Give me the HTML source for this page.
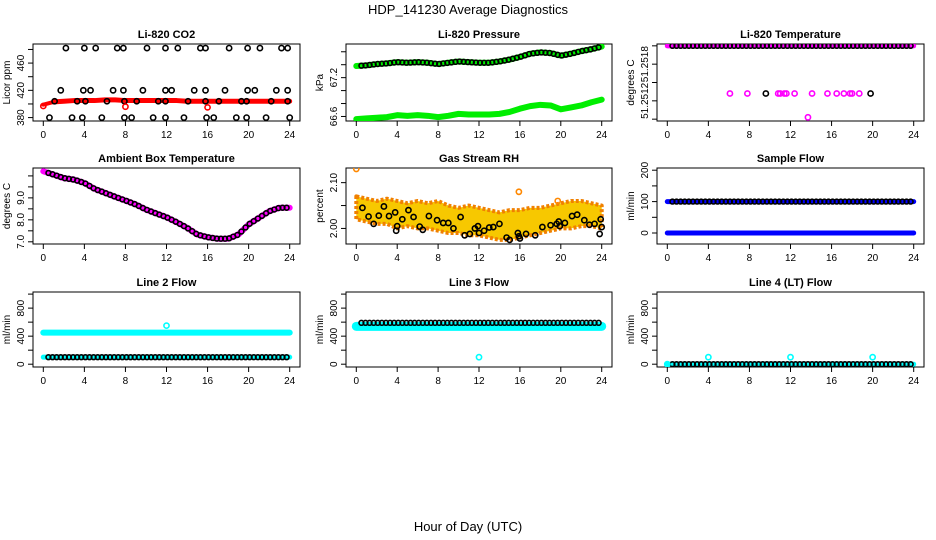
<!DOCTYPE html>
<html><head><meta charset="utf-8"><style>
html,body{margin:0;padding:0;background:#fff;}
svg{display:block;font-family:"Liberation Sans",sans-serif;}
</style></head><body>
<svg id="chart" width="936" height="540" viewBox="0 0 936 540">
<text x="468" y="14" text-anchor="middle" font-size="13">HDP_141230  Average Diagnostics</text>
<text x="468" y="531" text-anchor="middle" font-size="13">Hour of Day (UTC)</text>
</svg>
<script>
// ---- data ----
const hoursHourly = [0,1,2,3,4,5,6,7,8,9,10,11,12,13,14,15,16,17,18,19,20,21,22,23,24];
const xTicks = [0,4,8,12,16,20,24];
const co2Red = [399,403,404,405,405,405,406,406,405,405,405,405,405,405,404,404,404,404,404,404,404,404,404,404,404];
const co2HighHours = [2.2,4.0,5.1,7.2,7.8,10.1,11.9,13.1,15.3,15.8,18.1,19.9,21.1,23.2,23.8];
const co2MidHours = [1.7,3.9,4.6,6.8,7.8,9.7,11.9,12.5,14.7,15.8,17.7,19.9,20.6,22.7,23.8];
const co2BaseHours = [1.1,3.3,4.1,6.2,7.9,9.1,11.2,11.9,14.1,15.8,17.1,19.3,19.8,22.2,23.8];
const co2LowHours = [0.6,2.8,3.8,5.7,7.9,8.6,10.7,11.9,13.7,15.9,16.6,18.8,19.8,21.7,24.0];
const co2Levels = [482,420,404,380];
const co2RedOutHours = [0,8,16];
const co2RedOutVals = [397,396,395];
const presUpper = [67.38,67.39,67.41,67.42,67.44,67.43,67.44,67.43,67.41,67.43,67.45,67.44,67.43,67.43,67.45,67.48,67.52,67.57,67.59,67.58,67.54,67.57,67.61,67.64,67.68];
const presLower = [66.56,66.57,66.58,66.59,66.62,66.61,66.62,66.61,66.59,66.61,66.64,66.63,66.63,66.63,66.64,66.67,66.72,66.76,66.78,66.77,66.71,66.74,66.77,66.82,66.86];
const tempTop = 51.2520;
const tempMidHours = [6.1,7.8,9.6,10.8,11.0,11.4,11.6,12.4,14.1,15.6,16.5,17.2,17.8,18.0,18.7,19.8];
const tempMidVal = 51.25148;
const tempLowHours = [13.7];
const tempLowVal = 51.25122;
const ambient = [10.21,10.06,9.9,9.83,9.68,9.41,9.23,9.05,8.88,8.7,8.47,8.29,8.12,7.89,7.64,7.33,7.21,7.14,7.14,7.33,7.79,8.09,8.39,8.55,8.55];
const rhUpper = [2.07,2.065,2.06,2.065,2.06,2.055,2.06,2.055,2.06,2.05,2.045,2.05,2.045,2.04,2.035,2.04,2.04,2.045,2.045,2.05,2.055,2.06,2.06,2.055,2.05];
const rhLower = [2.02,2.015,2.01,2.01,2.0,2.005,2.0,2.0,1.995,1.99,1.99,1.985,1.985,1.98,1.975,1.975,1.98,1.985,1.99,1.995,2.0,2.0,2.005,2.005,2.0];
const rhBlackHours = [0.6,1.2,1.7,2.2,2.7,3.2,3.8,3.9,4.0,4.5,5.1,5.6,6.2,6.5,7.1,7.9,8.5,9.0,9.5,10.2,10.6,11.1,11.6,11.9,12.0,12.5,13.0,13.4,14.0,14.7,15.0,15.8,15.9,16.0,16.6,17.5,18.2,19.0,19.6,19.8,19.9,20.4,21.1,21.6,22.3,22.8,23.3,23.8,23.9,24.0];
const rhBlackVals = [2.045,2.026,2.01,2.028,2.048,2.027,2.035,1.995,2.005,2.02,2.04,2.025,2.004,1.997,2.027,2.018,2.012,2.012,2.0,2.025,1.985,1.988,2.0,2.005,1.99,1.995,2.002,2.003,2.01,1.98,1.975,1.99,1.983,1.978,1.988,1.985,2.003,2.007,2.01,2.015,2.005,2.012,2.027,2.03,2.018,2.008,2.01,1.988,2.02,2.003];
const sfHigh = 100, sfLow = 0;
const l2Upper = 450, l2Lower = 100, l2OutHour = 12, l2OutVal = 550;
const l3Black = 590, l3Cyan = 540, l3OutHour = 12, l3OutVal = 100;
const l4Level = 0;
const l4OutHours = [4,12,20];
const l4OutVals = [100,100,100];

// ---- layout ----
const NS = 'http://www.w3.org/2000/svg';
const svg = document.getElementById('chart');
const cols = [[33,300],[346,612],[657,924]];
const rows = [[44,121],[168,244],[292,367]];
function mk(tag, attrs, parent){const e=document.createElementNS(NS,tag);for(const k in attrs)e.setAttribute(k,attrs[k]);(parent||svg).appendChild(e);return e;}
function panel(ci,ri,title,ylab,ymin,ymax,yticks,ylabels,name){
  const [L,R]=cols[ci],[T,B]=rows[ri];
  const g=mk('g',{});
  
  
  const xs=h=>L+10.3+h*(R-L-20.6)/24;
  const ys=v=>B-(v-ymin)/(ymax-ymin)*(B-T);
  const t=mk('text',{x:(L+R)/2,y:T-6,'text-anchor':'middle','font-size':11,'font-weight':'bold'},g);t.textContent=title;
  
  
  const box=mk('rect',{x:L,y:T,width:R-L,height:B-T,fill:'none',stroke:'#000','stroke-width':1},g);
  
  
  xTicks.forEach(h=>{mk('line',{x1:xs(h),x2:xs(h),y1:B,y2:B+5,stroke:'#000'},g);
    const tx=mk('text',{x:xs(h),y:B+17,'text-anchor':'middle','font-size':10},g);tx.textContent=h;
    
    });
  yticks.forEach((v,i)=>{const y=ys(v);mk('line',{x1:L,x2:L-5,y1:y,y2:y,stroke:'#000'},g);
    if(ylabels[i]){const ty=mk('text',{x:L-9,y:y,'text-anchor':'middle','font-size':10,transform:`rotate(-90 ${L-9} ${y})`},g);ty.textContent=ylabels[i];
    
    }});
  const yl=mk('text',{x:L-23,y:(T+B)/2,'text-anchor':'middle','font-size':10,transform:`rotate(-90 ${L-23} ${(T+B)/2})`},g);yl.textContent=ylab;
  
  
  const clip='c'+ci+ri;
  const cp=mk('clipPath',{id:clip},g);mk('rect',{x:L,y:T,width:R-L,height:B-T},cp);
  const d=mk('g',{'clip-path':`url(#${clip})`},g);
  return {xs,ys,d};
}
function band(p,hrs,vals,color,w,name){
  const pts=hrs.map((h,i)=>p.xs(h)+','+p.ys(vals[i])).join(' ');
  const e=mk('polyline',{points:pts,fill:'none',stroke:color,'stroke-width':w,'stroke-linejoin':'round','stroke-linecap':'round'},p.d);
  
  
}
function dot(p,h,v,color,name,r){
  const e=mk('circle',{cx:p.xs(h),cy:p.ys(v),r:r||2.6,fill:'none',stroke:color,'stroke-width':1.6},p.d);
  
  
}
const gridHours=[];for(let h=0.5;h<=24;h+=0.4)gridHours.push(+h.toFixed(2));
function hline(p,v,color,w,name){band(p,[0,24],[v,v],color,w,name);}

// CO2
let p=panel(0,0,'Li-820 CO2','Licor ppm',375,488,[380,400,420,440,460,480],['380','','420','','460',''],'panel-co2');
band(p,hoursHourly.slice(1),co2Red.slice(1),'#f00',5,'co2-red-band');
band(p,[0,1],co2Red.slice(0,2),'#f00',4,'co2-red-start');
[co2HighHours,co2MidHours,co2BaseHours,co2LowHours].forEach((hs,k)=>hs.forEach(h=>dot(p,h,co2Levels[k],'#000','co2-point')));
co2RedOutHours.forEach((h,i)=>dot(p,h,co2RedOutVals[i],'#f00','co2-red-outlier'));

// Pressure
p=panel(1,0,'Li-820 Pressure','kPa',66.53,67.72,[66.6,66.8,67.0,67.2,67.4,67.6],['66.6','','','67.2','',''],'panel-pressure');
band(p,hoursHourly,presUpper,'#0e0',6,'pressure-upper-green');
band(p,hoursHourly,presLower,'#0e0',6,'pressure-lower-green');
gridHours.forEach(h=>{const i=Math.min(23,Math.floor(h));const f=h-i;dot(p,h,presUpper[i]*(1-f)+presUpper[i+1]*f,'#000','pressure-point',2.4);});

// Temperature
p=panel(2,0,'Li-820 Temperature','degrees C',51.25118,51.25202,[51.2520,51.2518,51.2516,51.2514,51.2512],['','51.2518','','51.2512',''],'panel-li820-temp');
band(p,[0,24],[tempTop,tempTop],'#f0f',5,'temp-magenta-band');
gridHours.forEach(h=>dot(p,h,tempTop,'#000','temp-point',2.4));
tempMidHours.forEach((h,i)=>dot(p,h,tempMidVal,(i==2||i==15)?'#000':'#f0f','temp-mid-point'));
tempLowHours.forEach(h=>dot(p,h,tempLowVal,'#f0f','temp-low-point'));

// Ambient
p=panel(0,1,'Ambient Box Temperature','degrees C',6.9,10.36,[7,7.5,8,8.5,9,9.5,10],['7.0','','8.0','','9.0','',''],'panel-ambient-temp');
band(p,hoursHourly,ambient,'#f0f',6,'ambient-magenta');
gridHours.forEach(h=>{const i=Math.min(23,Math.floor(h));const f=h-i;dot(p,h,ambient[i]*(1-f)+ambient[i+1]*f,'#000','ambient-point',2.4);});

// RH
p=panel(1,1,'Gas Stream RH','percent',1.966,2.132,[2.0,2.05,2.10],['2.00','','2.10'],'panel-rh');
{const pts=hoursHourly.map((h,i)=>p.xs(h)+','+p.ys(rhUpper[i])).concat(hoursHourly.slice().reverse().map((h,j)=>p.xs(h)+','+p.ys(rhLower[24-j]))).join(' ');
const e=mk('polygon',{points:pts,fill:'#f7c800',stroke:'#f08000','stroke-width':4,'stroke-linejoin':'round','stroke-dasharray':'3 2'},p.d);

}
dot(p,0,2.13,'#f80','rh-outlier');dot(p,15.9,2.08,'#f80','rh-outlier');dot(p,19.7,2.06,'#f80','rh-outlier');
rhBlackHours.forEach((h,i)=>dot(p,h,rhBlackVals[i],'#000','rh-point'));

// Sample flow
p=panel(2,1,'Sample Flow','ml/min',-35,207,[0,50,100,150,200],['0','','100','','200'],'panel-sample-flow');
hline(p,sfHigh,'#00f',5,'sample-flow-blue-high');
hline(p,sfLow,'#00f',5,'sample-flow-blue-low');
gridHours.forEach(h=>dot(p,h,sfHigh,'#000','sample-flow-point',2.4));

// Line 2
p=panel(0,2,'Line 2 Flow','ml/min',-40,1030,[0,200,400,600,800,1000],['0','','400','','800',''],'panel-line2-flow');
hline(p,l2Upper,'#0ff',6,'line2-cyan-upper');
hline(p,l2Lower,'#0ff',5,'line2-cyan-lower');
gridHours.forEach(h=>dot(p,h,l2Lower,'#000','line2-point',2.4));
dot(p,l2OutHour,l2OutVal,'#0ff','line2-outlier');

// Line 3
p=panel(1,2,'Line 3 Flow','ml/min',-40,1030,[0,200,400,600,800,1000],['0','','400','','800',''],'panel-line3-flow');
hline(p,l3Cyan,'#0ff',9,'line3-cyan');
gridHours.forEach(h=>dot(p,h,l3Black,'#000','line3-point',2.4));
dot(p,l3OutHour,l3OutVal,'#0ff','line3-outlier');

// Line 4
p=panel(2,2,'Line 4 (LT) Flow','ml/min',-40,1030,[0,200,400,600,800,1000],['0','','400','','800',''],'panel-line4-flow');
hline(p,l4Level,'#0ff',5,'line4-cyan');
gridHours.forEach(h=>dot(p,h,l4Level,'#000','line4-point',2.4));
l4OutHours.forEach((h,i)=>dot(p,h,l4OutVals[i],'#0ff','line4-outlier'));
dot(p,0,0,'#0ff','line4-start');
</script>
</body></html>
